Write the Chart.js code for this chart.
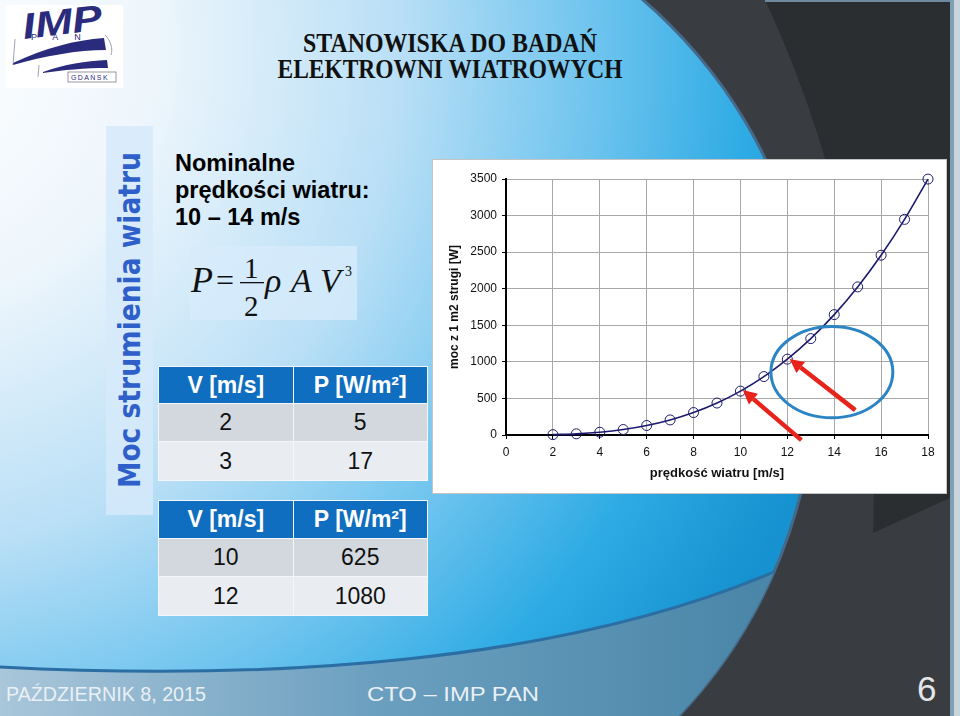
<!DOCTYPE html>
<html>
<head>
<meta charset="utf-8">
<script src="https://cdn.jsdelivr.net/npm/chart.js@4.4.1/dist/chart.umd.min.js"></script>
<style>
  html, body { margin: 0; padding: 0; width: 960px; height: 716px; overflow: hidden; background: #393d41; }
  #slide { position: relative; width: 960px; height: 716px; font-family: "Liberation Sans", Arial, sans-serif; }
  svg.bg { position: absolute; left: 0; top: 0; }
  .intro { position: absolute; left: 175px; top: 150px; font-weight: bold; font-size: 23.5px; line-height: 27px; color: #000; }
  .formula { position: absolute; left: 190px; top: 246px; width: 167px; height: 74px; background: rgba(215, 235, 251, 0.8); }
  table.pv { position: absolute; left: 158px; width: 270px; border-collapse: collapse; table-layout: fixed; }
  table.pv td, table.pv th { text-align: center; padding: 0; border: 1px solid #f4f7fa; font-size: 23px; }
  table.pv th { background: #0f6ebf; color: #fff; font-weight: bold; }
  table.pv tr.odd td { background: #d3d8de; color: #111; }
  table.pv tr.even td { background: #e9edf1; color: #111; }
  #frame { position: absolute; left: 432px; top: 159px; width: 515px; height: 335px; background: #c4c4c4; }
  #chartBox { position: absolute; left: 1px; top: 1px; width: 513px; height: 333px; background: #fff; }
</style>
</head>
<body>
<div id="slide">
  <svg class="bg" width="960" height="716" xmlns="http://www.w3.org/2000/svg">
    <defs>
      <radialGradient id="blueG" cx="-100" cy="50" r="1000" gradientUnits="userSpaceOnUse">
        <stop offset="0" stop-color="#ffffff"/>
        <stop offset="0.25" stop-color="#eef6fc"/>
        <stop offset="0.5" stop-color="#b9dff6"/>
        <stop offset="0.7" stop-color="#6cc3ee"/>
        <stop offset="0.85" stop-color="#2eabe4"/>
        <stop offset="1" stop-color="#1592cf"/>
      </radialGradient>
      <linearGradient id="footG" x1="0" y1="0" x2="760" y2="0" gradientUnits="userSpaceOnUse">
        <stop offset="0" stop-color="#a9c6da"/>
        <stop offset="0.5" stop-color="#6b9fbf"/>
        <stop offset="1" stop-color="#4a86a8"/>
      </linearGradient>
      <clipPath id="circ"><circle cx="320" cy="375" r="495"/></clipPath>
    </defs>
    <rect width="960" height="716" fill="#393d41"/>
    <path d="M765,0 C830,140 880,320 873,533 L952,497 L952,0 Z" fill="#2b2e31"/>
    <rect x="765" y="0" width="190" height="2" fill="#6f8aa0"/>
    <rect x="950" y="0" width="4" height="716" fill="#7f9fb4"/>
    <rect x="954" y="0" width="6" height="716" fill="#c9d4dc"/>
    <circle cx="320" cy="375" r="495" fill="url(#blueG)" stroke="#46698a" stroke-width="3"/>
    <g clip-path="url(#circ)">
      <path d="M0,667 C250,680 560,668 790,565 L960,565 L960,716 L0,716 Z" fill="url(#footG)"/>
      <path d="M0,667 C250,680 560,668 790,565" fill="none" stroke="#2a6ea3" stroke-width="3"/>
    </g>

    <!-- logo -->
    <g transform="translate(5,5)">
      <rect width="118" height="83" fill="#ffffff"/>
      <text x="19" y="34" transform="rotate(-7 19 34)" font-family="Liberation Sans" font-weight="bold" font-style="italic" font-size="36" fill="#2b2b7e" textLength="80" lengthAdjust="spacingAndGlyphs">IMP</text>
      <text x="26" y="35" font-family="Liberation Sans" font-size="9" fill="#2b2b7e" letter-spacing="16">PAN</text>
      <path d="M8,58 C40,43 70,35 99,33 L101,45 C72,45 40,51 8,60 Z" fill="#2b2b7e"/>
      <path d="M38,67 C60,59 80,56 102,55 L103,63 C80,63 58,65 38,68 Z" fill="#2b2b7e"/>
      <path d="M10,34 L8,60" fill="none" stroke="#8a8a9a" stroke-width="0.8"/>
      <path d="M100,30 C106,36 108,44 106,50" fill="none" stroke="#8a8a9a" stroke-width="0.8"/>
      <path d="M34,60 L33,72" fill="none" stroke="#8a8a9a" stroke-width="0.8"/>
      <rect x="63" y="67" width="48" height="10" fill="none" stroke="#6a6a7a" stroke-width="0.7"/>
      <text x="66" y="75" font-family="Liberation Sans" font-size="7" fill="#2b2b7e" letter-spacing="1.4">GDAŃSK</text>
    </g>

    <!-- title -->
    <text x="450" y="52" text-anchor="middle" font-family="Liberation Serif" font-weight="bold" font-size="27" fill="#111" textLength="294" lengthAdjust="spacingAndGlyphs">STANOWISKA DO BADAŃ</text>
    <text x="450" y="78" text-anchor="middle" font-family="Liberation Serif" font-weight="bold" font-size="27" fill="#111" textLength="345" lengthAdjust="spacingAndGlyphs">ELEKTROWNI WIATROWYCH</text>

    <!-- vertical side label -->
    <rect x="106" y="126" width="47" height="389" fill="#d6eafa" opacity="0.85"/>
    <text transform="translate(140,488) rotate(-90)" font-family="DejaVu Sans" font-weight="bold" font-size="30" fill="#2f5fc8" textLength="336" lengthAdjust="spacingAndGlyphs">Moc strumienia wiatru</text>

    <!-- footer -->
    <text x="6" y="701" font-family="Liberation Sans" font-size="20" fill="#eaf0f4" textLength="200" lengthAdjust="spacingAndGlyphs">PAŹDZIERNIK 8, 2015</text>
    <text x="367" y="701" font-family="Liberation Sans" font-size="21" fill="#eaf0f4" textLength="172" lengthAdjust="spacingAndGlyphs">CTO – IMP PAN</text>
    <text x="917" y="701" font-family="Liberation Sans" font-size="35" fill="#e4e6e8">6</text>
  </svg>

  <div class="intro">Nominalne<br>prędkości wiatru:<br>10 – 14 m/s</div>

  <div class="formula"></div>
  <svg class="bg" width="960" height="716" xmlns="http://www.w3.org/2000/svg" style="pointer-events:none">
    <g font-family="Liberation Serif" fill="#111">
      <text x="191" y="292" font-size="36" font-style="italic">P</text>
      <text x="216" y="291" font-size="32">=</text>
      <text x="244" y="278" font-size="29">1</text>
      <rect x="240" y="282" width="24" height="1.3" fill="#111"/>
      <text x="244" y="316" font-size="29">2</text>
      <text x="265" y="292" font-size="34" font-style="italic">ρ</text>
      <text x="291" y="292" font-size="34" font-style="italic">A</text>
      <text x="320" y="292" font-size="34" font-style="italic">V</text>
      <text x="345" y="276" font-size="14">3</text>
    </g>
  </svg>

  <table class="pv" style="top:366px">
    <tr style="height:37px"><th>V [m/s]</th><th>P [W/m²]</th></tr>
    <tr class="odd" style="height:38px"><td>2</td><td>5</td></tr>
    <tr class="even" style="height:39px"><td>3</td><td>17</td></tr>
  </table>

  <table class="pv" style="top:500px">
    <tr style="height:38px"><th>V [m/s]</th><th>P [W/m²]</th></tr>
    <tr class="odd" style="height:38px"><td>10</td><td>625</td></tr>
    <tr class="even" style="height:39px"><td>12</td><td>1080</td></tr>
  </table>

  <div id="frame"><div id="chartBox"><canvas id="powerChart"></canvas></div></div>
</div>

<script>
/* ---------- DATA ---------- */

// wind speed [m/s] of each measured point
const speeds = [2, 3, 4, 5, 6, 7, 8, 9, 10, 11, 12, 13, 14, 15, 16, 17, 18];
// power from 1 m2 of the stream [W]
const power = [5, 16, 38, 75, 130, 206, 307, 437, 600, 799, 1037, 1318, 1646, 2025, 2458, 2948, 3499];

const xTicks = [0, 2, 4, 6, 8, 10, 12, 14, 16, 18];
const yTicks = [0, 500, 1000, 1500, 2000, 2500, 3000, 3500];

// hand-drawn markup, in data units
const ring = { x: 13.9, y: 860, rx: 2.6, ry: 625 };
const arrows = [
  { from: [12.6, -70], to: [10.1, 615] },
  { from: [14.9, 340], to: [12.1, 1040] }
];

/* ---------- MARKUP PLUGIN ---------- */

const markupPlugin = {
  id: 'markup',
  afterDatasetsDraw(chart) {
    const { ctx, scales: { x, y } } = chart;
    ctx.save();

    const cx = x.getPixelForValue(ring.x);
    const cy = y.getPixelForValue(ring.y);
    const rx = x.getPixelForValue(ring.x + ring.rx) - cx;
    const ry = cy - y.getPixelForValue(ring.y + ring.ry);
    ctx.beginPath();
    ctx.ellipse(cx, cy, rx, ry, 0, 0, Math.PI * 2);
    ctx.strokeStyle = '#2b84c4';
    ctx.lineWidth = 3;
    ctx.stroke();

    arrows.forEach(a => {
      const x0 = x.getPixelForValue(a.from[0]), y0 = y.getPixelForValue(a.from[1]);
      const x1 = x.getPixelForValue(a.to[0]), y1 = y.getPixelForValue(a.to[1]);
      const ang = Math.atan2(y1 - y0, x1 - x0);
      const head = 14, half = 7;
      const bx = x1 - head * Math.cos(ang), by = y1 - head * Math.sin(ang);

      ctx.beginPath();
      ctx.moveTo(x0, y0);
      ctx.lineTo(bx, by);
      ctx.strokeStyle = '#e8231b';
      ctx.lineWidth = 4.5;
      ctx.stroke();

      ctx.beginPath();
      ctx.moveTo(x1, y1);
      ctx.lineTo(bx + half * Math.sin(ang), by - half * Math.cos(ang));
      ctx.lineTo(bx - half * Math.sin(ang), by + half * Math.cos(ang));
      ctx.closePath();
      ctx.fillStyle = '#e8231b';
      ctx.fill();
    });

    ctx.restore();
  }
};

/* ---------- CHART ---------- */

const tickFont = { family: 'Liberation Sans', size: 12 };

new Chart(document.getElementById('powerChart'), {
  type: 'line',
  data: {
    datasets: [{
      data: speeds.map((v, i) => ({ x: v, y: power[i] })),
      borderColor: '#1c1a6d',
      borderWidth: 1.6,
      tension: 0.4,
      cubicInterpolationMode: 'monotone',
      pointStyle: 'circle',
      pointRadius: 5,
      pointBorderWidth: 1,
      pointBorderColor: '#1c1a6d',
      pointBackgroundColor: 'rgba(255,255,255,0)',
      clip: false
    }]
  },
  options: {
    responsive: true,
    maintainAspectRatio: false,
    animation: false,
    devicePixelRatio: 1,
    layout: { padding: { left: 0, right: 18, top: 19, bottom: 0 } },
    plugins: { legend: { display: false }, tooltip: { enabled: false } },
    scales: {
      x: {
        type: 'linear',
        min: 0, max: 18,
        afterBuildTicks: s => { s.ticks = xTicks.map(v => ({ value: v })); },
        afterFit: s => { s.height = 58; },
        grid: { color: '#a8a8a8', lineWidth: 1, tickLength: 4, tickColor: '#000' },
        border: { color: '#000', width: 2 },
        ticks: { font: tickFont, color: '#111', padding: 6, maxRotation: 0, callback: v => String(v) },
        title: {
          display: true,
          text: 'prędkość wiatru [m/s]',
          font: { family: 'Liberation Sans', size: 13, weight: 'bold' },
          color: '#111',
          padding: { top: 0, bottom: 12 }
        }
      },
      y: {
        min: 0, max: 3500,
        afterBuildTicks: s => { s.ticks = yTicks.map(v => ({ value: v })); },
        afterFit: s => { s.width = 73; },
        grid: { color: '#a8a8a8', lineWidth: 1, tickLength: 4, tickColor: '#000' },
        border: { color: '#000', width: 2 },
        ticks: { font: tickFont, color: '#111', padding: 5, callback: v => String(v) },
        title: {
          display: true,
          text: 'moc z 1 m2 strugi [W]',
          font: { family: 'Liberation Sans', size: 12, weight: 'bold' },
          color: '#111',
          padding: { top: 14, bottom: 0 }
        }
      }
    }
  },
  plugins: [markupPlugin]
});
</script>
</body>
</html>
